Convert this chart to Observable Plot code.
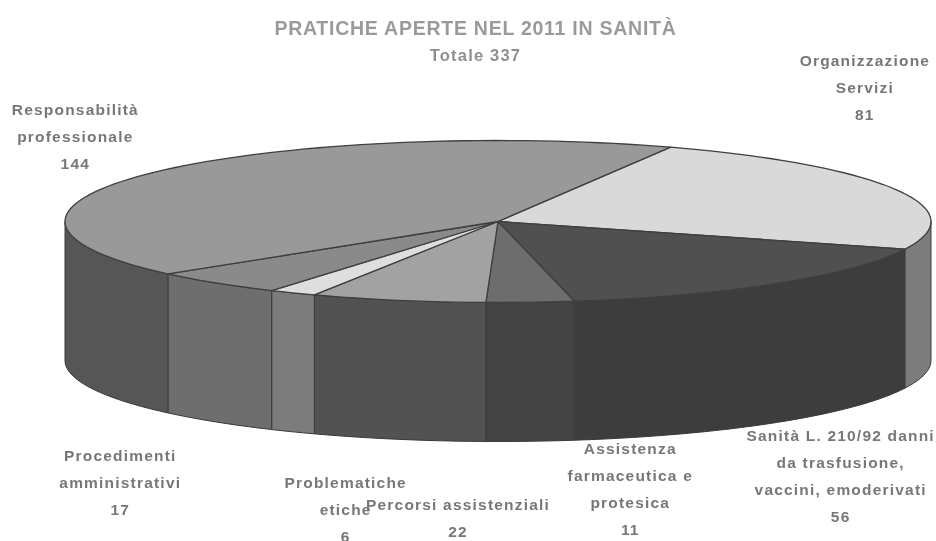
<!DOCTYPE html>
<html lang="it">
<head>
<meta charset="utf-8">
<script src="https://cdn.jsdelivr.net/npm/d3@7"></script>
<script src="https://cdn.jsdelivr.net/npm/@observablehq/plot@0.6"></script>
<style>
html,body{margin:0;padding:0;background:#fff}
svg{display:block;filter:blur(.45px)}
.lab{letter-spacing:1.2px}
.ttl{letter-spacing:.75px}
.sub{letter-spacing:1.2px}
</style>
</head>
<body>
<div id="chart"></div>
<script>
// Data
const categories = ["Organizzazione\nServizi","Sanità L. 210/92 danni\nda trasfusione,\nvaccini, emoderivati","Assistenza\nfarmaceutica e\nprotesica","Percorsi assistenziali","Problematiche\netiche","Procedimenti\namministrativi","Responsabilità\nprofessionale"];
const values = [81,56,11,22,6,17,144];
const titleText = "PRATICHE APERTE NEL 2011 IN SANITÀ";
const subtitleText = "Totale 337";

// Styles
const topColors  = ["#d9d9d9","#505050","#6d6d6d","#a2a2a2","#dedede","#8a8a8a","#999999"];
const wallColors = ["#7c7c7c","#3d3d3d","#444444","#525252","#7c7c7c","#6e6e6e","#565656"];

// Layout of the tilted pie (pixels, used through the identity-range scales)
const W = 936, H = 541;
const pie3d = {cx:497.5, cy:221, rx:433, ry:81, depth:139, start:-66.5};
// Label offset from each slice's rim point at mid-angle
const labelOffsets = [[-31,-105],[64,189],[100,184],[60,215],[53,213.5],[-96,196],[-75,-40]];

const rad = d => d * Math.PI / 180;
const rim = (t, drop = 0) => ({
  x: pie3d.cx + pie3d.rx * Math.cos(rad(t)),
  y: pie3d.cy + pie3d.ry * Math.sin(rad(t)) + drop
});
const arcPts = (a, b, drop = 0) => {
  const n = Math.max(2, Math.ceil(Math.abs(b - a) / 2));
  return d3.range(n + 1).map(i => rim(a + (b - a) * i / n, drop));
};

const total = d3.sum(values);
const cum = d3.cumsum(values);
const slices = values.map((v, i) => ({
  i,
  a: pie3d.start + 360 * (cum[i] - v) / total,
  b: pie3d.start + 360 * cum[i] / total
}));

const marks = [];
// Side walls: only the front half (0..180 degrees) of the rim is visible
for (const s of slices) {
  const a = Math.max(s.a, 0), b = Math.min(s.b, 180);
  if (b <= a) continue;
  const top = arcPts(a, b), bottom = arcPts(b, a, pie3d.depth);
  const poly = [...top, ...bottom, top[0]];
  marks.push(Plot.line(poly, {x:"x", y:"y", fill:wallColors[s.i], stroke:"#3a3a3a", strokeWidth:1}));
}
// Top faces
const centre = {x:pie3d.cx, y:pie3d.cy};
for (const s of slices) {
  const poly = [centre, ...arcPts(s.a, s.b), centre];
  marks.push(Plot.line(poly, {x:"x", y:"y", fill:topColors[s.i], stroke:"#3f3f3f", strokeWidth:1.3}));
}
// Labels
slices.forEach((s, i) => {
  const p = rim((s.a + s.b) / 2);
  marks.push(Plot.text([{...p, t:`${categories[i]}\n${values[i]}`}], {
    x:"x", y:"y", text:"t", dx:labelOffsets[i][0], dy:labelOffsets[i][1],
    textAnchor:"middle", lineAnchor:"middle", lineHeight:1.74,
    fontSize:15.5, fontWeight:600, fill:"#777", className:"lab",
    fontFamily:"Liberation Sans, Arial, sans-serif"
  }));
});
// Title
marks.push(Plot.text([titleText], {frameAnchor:"top", dx:7, dy:21, fontSize:19.5, fontWeight:700, fill:"#9a9a9a", lineAnchor:"top", className:"ttl", fontFamily:"Liberation Sans, Arial, sans-serif"}));
marks.push(Plot.text([subtitleText], {frameAnchor:"top", dx:7, dy:49, fontSize:16.5, fontWeight:700, fill:"#8f8f8f", lineAnchor:"top", className:"sub", fontFamily:"Liberation Sans, Arial, sans-serif"}));

const chart = Plot.plot({
  width:W, height:H, margin:0,
  x:{domain:[0,W], range:[0,W], axis:null},
  y:{domain:[0,H], range:[0,H], axis:null},
  style:{background:"#fff"},
  marks
});
document.getElementById("chart").append(chart);
</script>
</body>
</html>
